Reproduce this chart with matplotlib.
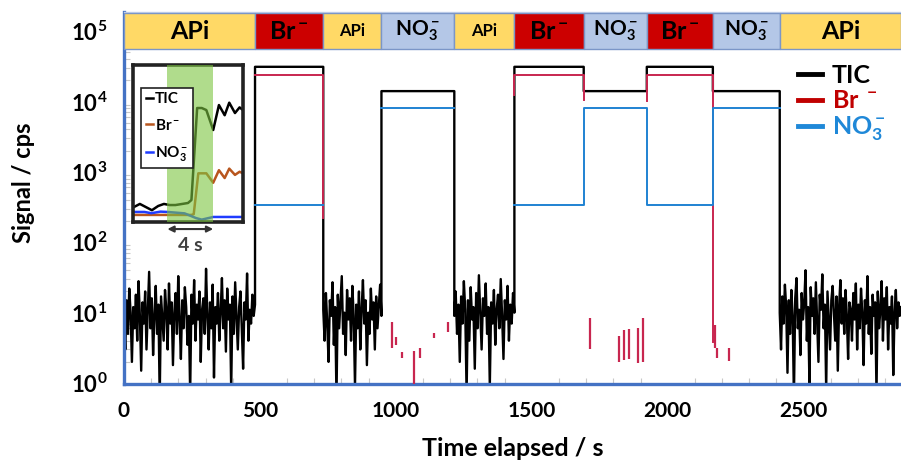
import numpy as np
import matplotlib
matplotlib.use("Agg")
import matplotlib.pyplot as plt
from matplotlib.lines import Line2D
from matplotlib.patches import Rectangle
import matplotlib.transforms as mtransforms
from matplotlib.ticker import FixedLocator, MultipleLocator, LogLocator, NullFormatter

plt.rcParams['font.family'] = ['Lato', 'DejaVu Sans']
plt.rcParams['font.weight'] = 'bold'
plt.rcParams['mathtext.fontset'] = 'custom'
plt.rcParams['mathtext.rm'] = 'Lato:bold'
plt.rcParams['mathtext.bf'] = 'Lato:bold'
plt.rcParams['mathtext.it'] = 'Lato:bold:italic'
plt.rcParams['mathtext.sf'] = 'Lato:bold'

# ---------------------------------------------------------------- data
# Ion-source phases and their boundaries (s)
phase_names = ["APi", "Br", "APi", "NO3", "APi", "Br", "NO3", "Br", "NO3", "APi"]
phase_edges = [0, 482, 733, 947, 1215, 1436, 1691, 1923, 2166, 2412, 2858]
phase_labels = {"APi": "APi", "Br": r"Br$^-$", "NO3": r"NO$_3^-$"}
phase_colors = {"APi": "#ffd966", "Br": "#cc0000", "NO3": "#b4c7e7"}

# Plateau signals (cps)
tic_level = {"Br": 31000, "NO3": 14000}
br_level = 23700
no3_level = {"Br": 337, "NO3": 8000}

# TIC background counts during the four APi phases
api_tic = [
    [8, 3, 15, 5, 22, 10, 2, 12, 6, 18, 4, 28, 9, 1.5, 14, 7, 20, 3, 11, 38,
     6, 16, 2.5, 9, 24, 5, 13, 0.6, 17, 8, 4, 21, 11, 3, 26, 7, 14, 1.8, 10, 19,
     5, 33, 8, 2.2, 15, 6, 23, 12, 3.5, 9, 0.7, 18, 7, 29, 4, 13, 8, 20, 2, 11,
     16, 5, 42, 9, 3, 14, 6, 25, 1.2, 12, 7, 19, 4, 10, 31, 6, 15, 2.8, 22, 8,
     13, 0.8, 17, 5, 27, 9, 3, 12, 20, 6, 1.6, 14, 8, 36, 4, 11, 7, 18, 9, 13],
    [11, 4, 19, 7, 2, 15, 9, 27, 3.5, 12, 0.6, 18, 6, 14, 33, 5, 10, 2.5, 21, 8,
     16, 4, 24, 9, 0.9, 13, 6, 20, 3, 11, 29, 7, 15, 1.8, 10, 5, 22, 8, 14, 3,
     17, 6, 12, 25, 9],
    [9, 20, 5, 13, 2, 17, 7, 28, 11, 0.7, 15, 4, 23, 8, 12, 1.6, 19, 6, 34, 10,
     3, 16, 9, 26, 5, 12, 0.9, 14, 7, 21, 3.5, 11, 18, 6, 30, 9, 2.2, 15, 8, 24,
     4, 13, 7, 19, 10],
    [10, 3, 17, 7, 25, 12, 1.4, 15, 5, 21, 9, 0.6, 16, 31, 6, 11, 2.5, 19, 8, 14,
     40, 4, 12, 1, 23, 9, 16, 5, 27, 7, 2, 18, 11, 35, 6, 13, 0.8, 20, 8, 3,
     15, 24, 10, 4, 17, 1.5, 12, 29, 7, 16, 5, 21, 9, 2.2, 14, 11, 4, 19, 8, 26,
     3, 13, 6, 22, 10, 1.8, 15, 7, 33, 5, 12, 2.6, 18, 9, 14, 0.7, 20, 6, 11, 28,
     4, 16, 8, 23, 3, 12, 7, 17, 1.3, 10, 21, 6, 14, 9, 12],
]

# Br- signal just before each Br rise and just after each Br fall
br_tail_pre = [None, 12300, 10000]
br_tail_post = [220, 10500, 3.8]

# Sporadic Br- counts during the NO3- phases
br_spike_t = [987, 1002, 1024, 1068, 1090, 1142, 1193,
              1713, 1820, 1838, 1856, 1890, 1908,
              2173, 2180, 2225]
br_spike_lo = [3.1, 3.5, 2.3, 0.5, 2.3, 4.4, 5.3,
               3.0, 2.0, 2.1, 2.2, 1.9, 2.0,
               3.2, 2.3, 2.05]
br_spike_hi = [7.3, 4.5, 2.8, 2.85, 3.1, 5.1, 7.3,
               8.4, 4.6, 5.7, 5.9, 6.0, 8.4,
               6.7, 3.2, 3.1]

# Inset: zoom on the APi -> Br switch (time in s, signal in arbitrary units)
ins_tic_t = [0.1, 0.6, 1.1, 1.65, 2.2, 2.7, 3.2, 3.7, 4.3, 4.8, 5.1, 5.6, 6.0,
             6.4, 7.0, 7.5, 8.0, 8.4, 8.9, 9.3, 9.6]
ins_tic_v = [9.6, 11.5, 9.6, 7.5, 10.2, 11.5, 10.8, 10.8, 11.5, 12.1, 14, 72.6,
             72.6, 71.3, 58.6, 74.5, 68, 76, 69.4, 73, 71.3]
ins_br_t = [0.0, 5.1, 5.3, 5.7, 6.4, 7.0, 7.5, 8.0, 8.4, 8.9, 9.3, 9.6]
ins_br_v = [4.5, 4.5, 5.0, 31, 31, 25, 33, 28, 34, 30, 32, 31]
ins_no3_t = [0.0, 1.0, 1.6, 2.4, 3.0, 4.5, 5.5, 6.0, 7.0, 9.6]
ins_no3_v = [6.4, 6.4, 5.6, 6.6, 6.4, 5.5, 2.5, 1.5, 3.2, 3.2]

# ---------------------------------------------------------------- colours
c_tic = "black"
c_br = "#c8264f"
c_no3 = "#1f82d2"
c_axis = "#4472c4"

# ---------------------------------------------------------------- series
phases = list(zip(phase_names, phase_edges[:-1], phase_edges[1:]))

tic_t, tic_v = [], []
k = 0
for name, t0, t1 in phases:
    if name == "APi":
        vals = api_tic[k]
        k += 1
        tic_t += list(np.linspace(t0, t1, len(vals)))
        tic_v += vals
    else:
        tic_t += [t0, t1]
        tic_v += [tic_level[name]] * 2

br_t, br_v = [], []
k = 0
for name, t0, t1 in phases:
    if name == "Br":
        if br_tail_pre[k] is not None:
            br_t.append(t0)
            br_v.append(br_tail_pre[k])
        br_t += [t0, t1, t1, np.nan]
        br_v += [br_level, br_level, br_tail_post[k], np.nan]
        k += 1

no3_t, no3_v = [], []
for i, (name, t0, t1) in enumerate(phases):
    if name == "APi":
        if no3_t and not np.isnan(no3_t[-1]):
            no3_t.append(np.nan)
            no3_v.append(np.nan)
        continue
    no3_t += [t0, t1]
    no3_v += [no3_level[name]] * 2

# ---------------------------------------------------------------- figure
fig = plt.figure(figsize=(9.01, 4.62), dpi=100)
ax = fig.add_axes([0.1376, 0.1688, 0.8624, 0.8052])

ax.plot(tic_t, tic_v, color=c_tic, lw=1.7, zorder=2)
ax.plot(br_t, br_v, color=c_br, lw=1.4, zorder=3)
ax.vlines(br_spike_t, br_spike_lo, br_spike_hi, color=c_br, lw=1.6, zorder=3)
ax.plot(no3_t, no3_v, color=c_no3, lw=1.4, zorder=4)

ax.set_yscale("log")
ax.set_xlim(0, phase_edges[-1])
ax.set_ylim(0.97, 1.86e5)

# axes styling
for side in ("left", "bottom"):
    ax.spines[side].set_color(c_axis)
    ax.spines[side].set_linewidth(2.4)
ax.spines["top"].set_color("#c9d6ee")
ax.spines["top"].set_linewidth(1.0)
ax.spines["right"].set_visible(False)

ax.xaxis.set_major_locator(FixedLocator([0, 500, 1000, 1500, 2000, 2500]))
ax.xaxis.set_minor_locator(MultipleLocator(100))
ax.yaxis.set_major_locator(FixedLocator([1, 10, 100, 1e3, 1e4, 1e5]))
ax.yaxis.set_minor_locator(LogLocator(base=10, subs=np.arange(2, 10)))
ax.yaxis.set_minor_formatter(NullFormatter())
ax.set_yticklabels([r"$10^{%d}$" % e for e in range(6)])
ax.tick_params(axis="both", which="major", length=0, labelsize=15, pad=12)
ax.tick_params(axis="y", which="major", labelsize=16)
ax.tick_params(axis="both", which="minor", direction="in", length=4,
               color="#c8c8c8", width=0.8)
ax.tick_params(axis="x", which="both", top=False)
ax.tick_params(axis="y", which="both", right=False)
for lab in ax.get_xticklabels():
    lab.set_fontweight("bold")

ax.set_xlabel("Time elapsed / s", fontsize=18, fontweight="bold", labelpad=12)
ax.set_ylabel("Signal / cps", fontsize=17, fontweight="bold")
ax.yaxis.set_label_coords(-0.115, 0.54)

# phase banner along the top
blend = mtransforms.blended_transform_factory(ax.transData, ax.transAxes)
band_y0, band_h = 0.9005, 0.0965
for name, t0, t1 in phases:
    ax.add_patch(Rectangle((t0, band_y0), t1 - t0, band_h, transform=blend,
                           facecolor=phase_colors[name], edgecolor="#7b96c8",
                           lw=1.0, zorder=5, clip_on=False))
    if name == "APi":
        fs = 18 if (t1 - t0) > 300 else 12
    elif name == "Br":
        fs = 18
    else:
        fs = 15
    ax.text((t0 + t1) / 2, band_y0 + band_h / 2, phase_labels[name],
            transform=blend, ha="center", va="center", fontsize=fs,
            fontweight="bold", color="black", zorder=6)

# legend
handles = [Line2D([], [], color="black", lw=3.5),
           Line2D([], [], color="#c00000", lw=3.5),
           Line2D([], [], color="#1f88d8", lw=3.5)]
leg = ax.legend(handles, ["TIC", r"Br $^-$", r"NO$_3^-$"],
                loc="upper left", bbox_to_anchor=(0.886, 0.862),
                bbox_transform=fig.transFigure, frameon=False, fontsize=18,
                handlelength=0.95, handletextpad=0.4, labelspacing=0.1,
                borderaxespad=0, borderpad=0)
for txt, c in zip(leg.get_texts(), ["black", "#c00000", "#1f88d8"]):
    txt.set_color(c)
    txt.set_fontweight("bold")

# ---------------------------------------------------------------- inset
ins = fig.add_axes([0.1476, 0.5195, 0.1221, 0.3398])
ins.plot(ins_tic_t, ins_tic_v, color="black", lw=1.8, zorder=2)
ins.plot(ins_br_t, ins_br_v, color="#b8561e", lw=1.8, zorder=2)
ins.plot(ins_no3_t, ins_no3_v, color="#1f3cff", lw=1.8, zorder=2)
ins.axvspan(3.0, 7.0, color="#7cc540", alpha=0.6, lw=0, zorder=3)
ins.set_xlim(0, 9.6)
ins.set_ylim(0, 100)
ins.set_xticks([])
ins.set_yticks([])
for sp in ins.spines.values():
    sp.set_color("#222222")
    sp.set_linewidth(2.6)

ih = [Line2D([], [], color="black", lw=1.8),
      Line2D([], [], color="#b8561e", lw=1.8),
      Line2D([], [], color="#1f3cff", lw=1.8)]
ileg = ins.legend(ih, ["TIC", r"Br$^-$", r"NO$_3^-$"], loc="upper left",
                  bbox_to_anchor=(0.075, 0.855), borderaxespad=0,
                  fontsize=11, handlelength=0.5, handletextpad=0.1,
                  labelspacing=0.75, borderpad=0.3, fancybox=False,
                  framealpha=1)
ileg.get_frame().set_edgecolor("#222222")
ileg.get_frame().set_linewidth(1.2)
for txt in ileg.get_texts():
    txt.set_fontweight("bold")

ins.annotate("", xy=(7.0, -0.045), xytext=(3.0, -0.045),
             xycoords=("data", "axes fraction"),
             textcoords=("data", "axes fraction"),
             arrowprops=dict(arrowstyle="<|-|>", color="#333333", lw=1.5,
                             mutation_scale=9, shrinkA=0, shrinkB=0),
             annotation_clip=False)
ins.text(5.0, -0.15, "4 s", transform=mtransforms.blended_transform_factory(
         ins.transData, ins.transAxes), ha="center", va="center",
         fontsize=14, fontweight="bold", color="#404040")

fig.savefig("out.png", dpi=100)
